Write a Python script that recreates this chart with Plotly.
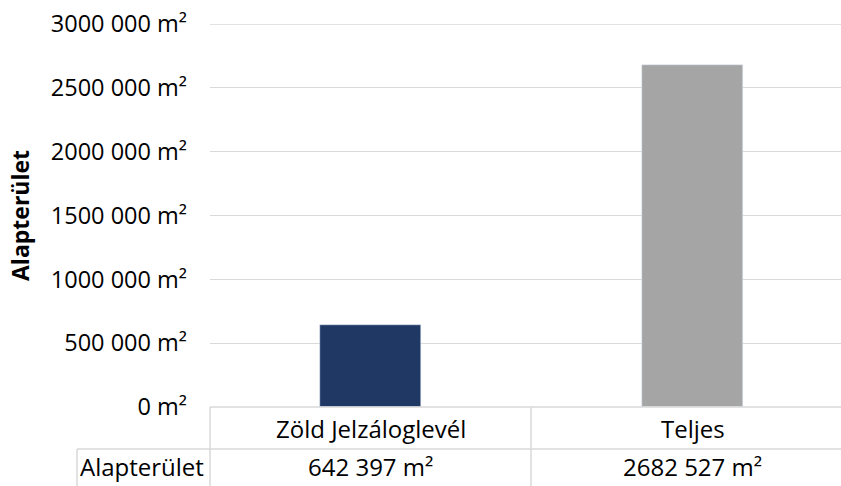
import plotly.graph_objects as go

categories = ["Zöld Jelzáloglevél", "Teljes"]
values = [642397, 2682527]
bar_colors = ["#203864", "#A5A5A5"]
series_name = "Alapterület"
tick_values = [0, 500000, 1000000, 1500000, 2000000, 2500000, 3000000]
tick_labels = ["0 m²", "500 000 m²", "1000 000 m²", "1500 000 m²",
               "2000 000 m²", "2500 000 m²", "3000 000 m²"]


def fmt(n):
    if n >= 1000:
        return f"{n // 1000} {n % 1000:03d} m²"
    return f"{n} m²"


FONT = "Open Sans"
FS = 24
GRID = "#D9D9D9"
PW = 631.0   # plot width px
PH = 383.0   # plot height px

xs = list(range(len(categories)))

fig = go.Figure()
fig.add_trace(go.Bar(
    x=xs, y=values, marker_color=bar_colors, width=0.314,
    name=series_name, showlegend=False, hoverinfo="skip",
))

row1_bottom = -42 / PH
row2_bottom = -0.25
x_label_left = -133 / PW
x_mid = (531 - 210) / PW
lw = 1.5
line = dict(color=GRID, width=lw)
shapes = [
    dict(type="line", xref="paper", yref="y", x0=0, x1=1.02,
         y0=tick_values[-1], y1=tick_values[-1], line=dict(color=GRID, width=1.3)),
    dict(type="line", xref="paper", yref="paper", x0=0, x1=1.02, y0=0, y1=0, line=line),
    dict(type="line", xref="paper", yref="paper", x0=x_label_left, x1=1.02,
         y0=row1_bottom, y1=row1_bottom, line=line),
    dict(type="line", xref="paper", yref="paper", x0=0, x1=0, y0=0, y1=row2_bottom, line=line),
    dict(type="line", xref="paper", yref="paper", x0=x_mid, x1=x_mid, y0=0, y1=row2_bottom, line=line),
    dict(type="line", xref="paper", yref="paper", x0=x_label_left, x1=x_label_left,
         y0=row1_bottom, y1=row2_bottom, line=line),
]

tf = dict(family=FONT, size=FS, color="#000")
annotations = []
for i, (c, v) in enumerate(zip(categories, values)):
    annotations.append(dict(x=i, y=-21 / PH, xref="x", yref="paper", text=c,
                            showarrow=False, xanchor="center", yanchor="middle", font=tf))
    annotations.append(dict(x=i, y=-60 / PH, xref="x", yref="paper", text=fmt(v),
                            showarrow=False, xanchor="center", yanchor="middle", font=tf))
annotations.append(dict(x=(142 - 210) / PW, y=-60 / PH, xref="paper", yref="paper",
                        text=series_name, showarrow=False, xanchor="center",
                        yanchor="middle", font=tf))
annotations.append(dict(x=(20 - 210) / PW, y=(407 - 216) / PH, xref="paper", yref="paper",
                        text="<b>Alapterület</b>", textangle=-90, showarrow=False,
                        xanchor="center", yanchor="middle",
                        font=dict(family=FONT, size=23, color="#000")))

fig.update_layout(
    width=841, height=486,
    margin=dict(l=210, r=0, t=24, b=79),
    paper_bgcolor="white", plot_bgcolor="white",
    xaxis=dict(range=[-0.4984, 1.461], showticklabels=False, showgrid=False,
               zeroline=False, showline=False, fixedrange=True),
    yaxis=dict(range=[0, 3000000], tickvals=tick_values, ticktext=tick_labels,
               showgrid=True, gridcolor=GRID, gridwidth=1.3, zeroline=False,
               showline=False, ticks="", ticklabelstandoff=22, fixedrange=True,
               tickfont=dict(family=FONT, size=23.5, color="#000")),
    shapes=shapes, annotations=annotations,
    bargap=0,
)

fig.write_html("out.html", config={"displayModeBar": False},
               post_script="document.body.style.margin='0';")
